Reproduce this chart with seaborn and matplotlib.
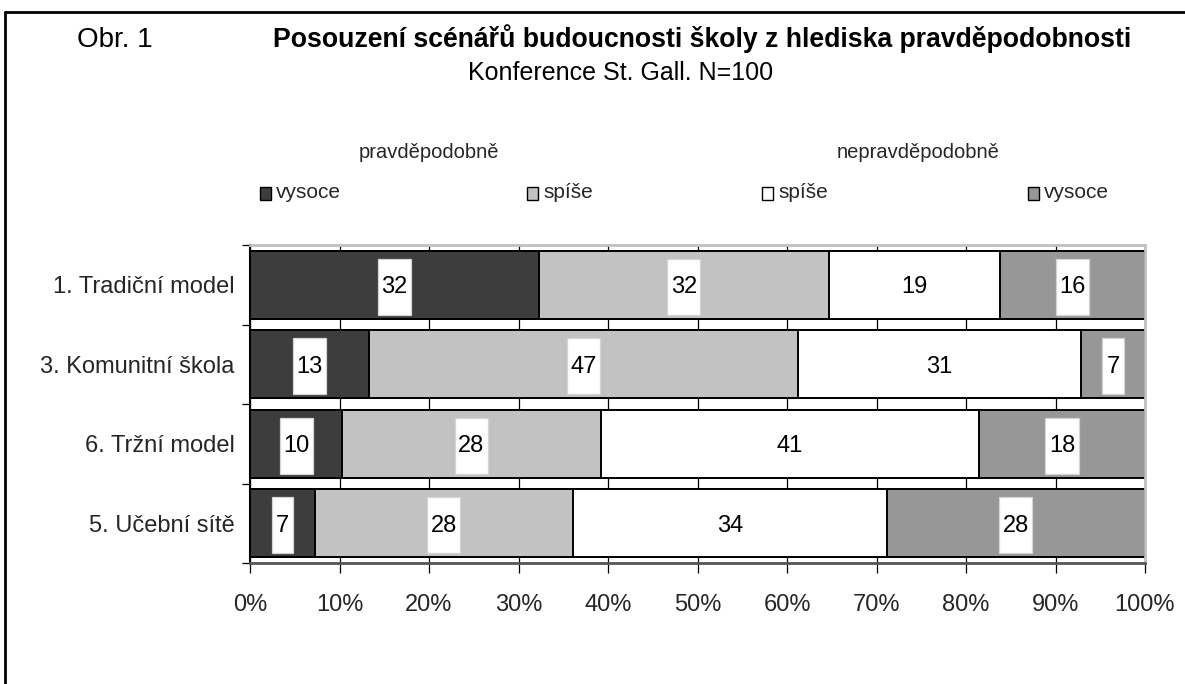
import matplotlib
matplotlib.use("Agg")
import matplotlib.pyplot as plt
from matplotlib.patches import Rectangle
from matplotlib.lines import Line2D
from matplotlib import font_manager
import numpy as np
import pandas as pd
import seaborn as sns

# --- data -------------------------------------------------------------
scenarios = ["1. Tradiční model", "3. Komunitní škola", "6. Tržní model", "5. Učební sítě"]
highly_likely = [32, 13, 10, 7]
rather_likely = [32, 47, 28, 28]
rather_unlikely = [19, 31, 41, 34]
highly_unlikely = [16, 7, 18, 28]
series_labels = ["vysoce", "spíše", "spíše", "vysoce"]
group_labels = ["pravděpodobně", "nepravděpodobně"]
x_ticks = [0, 10, 20, 30, 40, 50, 60, 70, 80, 90, 100]
title_label = "Obr. 1"
title = "Posouzení scénářů budoucnosti školy z hlediska pravděpodobnosti"
subtitle = "Konference St. Gall. N=100"

# --- style ------------------------------------------------------------
sns.set_theme(style="white")
available = {f.name for f in font_manager.fontManager.ttflist}
family = ["Liberation Sans Narrow", "Liberation Sans", "DejaVu Sans"]
family = [f for f in family if f in available] or ["DejaVu Sans"]
plt.rcParams["font.family"] = family

fills = ["#3d3d3d", "#c2c2c2", "#ffffff", "#979797"]

series = [highly_likely, rather_likely, rather_unlikely, highly_unlikely]
rows = []
for i, sc in enumerate(scenarios):
    vals = np.array([s[i] for s in series], dtype=float)
    share = vals / vals.sum() * 100
    ends = np.cumsum(share)
    starts = ends - share
    for k in range(4):
        rows.append(dict(scenario=sc, series=k, value=int(vals[k]),
                         start=starts[k], end=ends[k]))
df = pd.DataFrame(rows)

fig = plt.figure(figsize=(11.85, 6.84), dpi=100)
ax = fig.add_axes([250 / 1185, 1 - 563 / 684, 895 / 1185, 318 / 684])

# stacked bars: cumulative ends drawn from the outermost segment inwards
for k in [3, 2, 1, 0]:
    sub = df[df["series"] == k]
    sns.barplot(data=sub, x="end", y="scenario", order=scenarios, orient="h",
                color=fills[k], saturation=1, width=0.85, edgecolor="black",
                linewidth=1.4, ax=ax, zorder=2)

# value labels in white boxes
for _, r in df.iterrows():
    yi = scenarios.index(r["scenario"])
    xc = (r["start"] + r["end"]) / 2
    txt = str(r["value"])
    bw = 3.7 if len(txt) > 1 else 2.4
    edge = "none" if fills[r["series"]] == "#ffffff" else "#d4d4d4"
    ax.add_patch(Rectangle((xc - bw / 2, yi - 0.33), bw, 0.71,
                           facecolor="white", edgecolor=edge,
                           linewidth=0.9, zorder=3))
    ax.text(xc, yi + 0.03, txt, ha="center", va="center", fontsize=17,
            color="black", zorder=4)

ax.set_xlim(0, 100)
ax.set_ylim(3.5, -0.5)
ax.set_xticks(x_ticks)
ax.set_xticklabels([f"{t}%" for t in x_ticks])
ax.set_xlabel("")
ax.set_ylabel("")
ax.set_yticks(range(len(scenarios)))
ax.set_yticklabels(scenarios)
ax.set_yticks(np.arange(-0.5, len(scenarios), 1.0), minor=True)

ax.xaxis.grid(True, color="black", linewidth=0.9)
ax.yaxis.grid(False)
ax.set_axisbelow(True)

ax.tick_params(axis="x", which="major", bottom=True, direction="out",
               length=7, width=0.9, color="black", labelsize=17, pad=15)
ax.tick_params(axis="y", which="major", left=False, length=0, labelsize=17,
               pad=11)
ax.tick_params(axis="y", which="minor", left=True, direction="out",
               length=6, width=0.9, color="black")

for side in ["top", "right"]:
    ax.spines[side].set_color("#c0c0c0")
    ax.spines[side].set_linewidth(2)
ax.spines["left"].set_color("black")
ax.spines["left"].set_linewidth(1.5)
ax.spines["bottom"].set_color("#555555")
ax.spines["bottom"].set_linewidth(2)

# --- titles -----------------------------------------------------------
fig.text(77 / 1185, 1 - 47 / 684, title_label, ha="left", va="baseline",
         fontsize=20, color="black")
fig.text(702 / 1185, 1 - 47 / 684, title, ha="center", va="baseline",
         fontsize=19.2, fontweight="bold", color="black")
fig.text(621 / 1185, 1 - 80 / 684, subtitle, ha="center", va="baseline",
         fontsize=18, color="black")

# --- legend -----------------------------------------------------------
fig.text(429 / 1185, 1 - 153 / 684, group_labels[0], ha="center",
         va="center", fontsize=14.5)
fig.text(918 / 1185, 1 - 153 / 684, group_labels[1], ha="center",
         va="center", fontsize=14.5)
legend_x = [260, 527, 762, 1028]
for k, lx in enumerate(legend_x):
    fig.patches.append(Rectangle((lx / 1185, 1 - 200 / 684), 11 / 1185,
                                 13 / 684, transform=fig.transFigure,
                                 facecolor=fills[k], edgecolor="black",
                                 linewidth=1.0))
    fig.text((lx + 16) / 1185, 1 - 192 / 684, series_labels[k], ha="left",
             va="center", fontsize=15)

# outer frame (top and left edges)
fig.lines.append(Line2D([5 / 1185, 1], [1 - 12 / 684, 1 - 12 / 684],
                        transform=fig.transFigure, color="black", linewidth=2))
fig.lines.append(Line2D([5 / 1185, 5 / 1185], [0, 1 - 12 / 684],
                        transform=fig.transFigure, color="black", linewidth=2))

fig.savefig("out.png", dpi=100, facecolor="white")
